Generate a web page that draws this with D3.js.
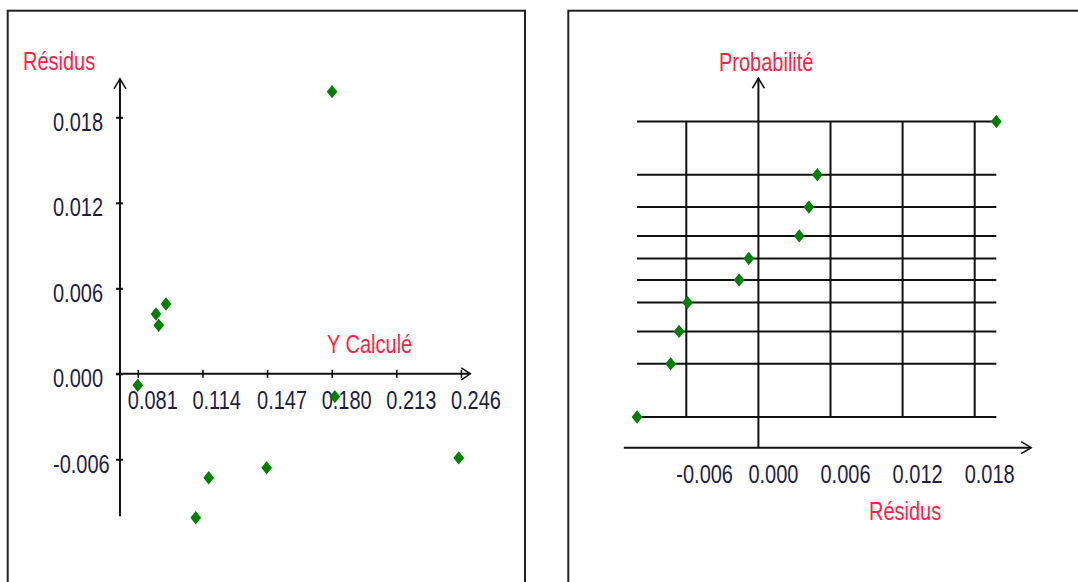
<!DOCTYPE html>
<html>
<head>
<meta charset="utf-8">
<script src="https://cdn.jsdelivr.net/npm/d3@7"></script>
<style>
  body { margin: 0; background: #fff; }
  svg { display: block; }
  text { font-family: "Liberation Sans", Arial, sans-serif; font-size: 20px; }
</style>
</head>
<body>
<svg id="chart" width="1078" height="582"></svg>
<script>
// values
const yCalcule = [0.0810, 0.0903, 0.0917, 0.0954, 0.1106, 0.1172, 0.1468, 0.1802, 0.1816, 0.2449];
const residus = [-0.0008, 0.0042, 0.0034, 0.0049, -0.0101, -0.0073, -0.0066, 0.0198, -0.0016, -0.0059];
// normal scores of the probability plot, lowest to highest
const probScores = [-1.64, -1.05, -0.69, -0.37, -0.12, 0.12, 0.37, 0.69, 1.05, 1.64];

const xTicksLeft = [0.081, 0.114, 0.147, 0.180, 0.213, 0.246];
const yTicksLeft = [-0.006, 0.000, 0.006, 0.012, 0.018];
const xTicksRight = [-0.006, 0.000, 0.006, 0.012, 0.018];

const svg = d3.select('#chart');
const ink = '#111';
const labelColor = '#1d1d45';
const titleColor = '#ff1f45';
const pointColor = '#008000';
const fmt = (d) => d.toFixed(3);

// diamond a bit wider than d3.symbolDiamond
const wideDiamond = {
  draw(ctx, size) {
    const w = Math.sqrt(size) / 2;
    const h = w * 1.25;
    ctx.moveTo(0, -h);
    ctx.lineTo(w, 0);
    ctx.lineTo(0, h);
    ctx.lineTo(-w, 0);
    ctx.closePath();
  }
};
const marker = d3.symbol().type(wideDiamond).size(115);

function label(g, txt, x, y, color) {
  g.append('text')
    .attr('transform', `translate(${x},${y}) scale(1,1.3)`)
    .attr('fill', color)
    .text(txt);
}

function line(g, x1, y1, x2, y2) {
  g.append('line')
    .attr('x1', x1).attr('y1', y1).attr('x2', x2).attr('y2', y2)
    .attr('stroke', ink).attr('stroke-width', 2);
}

function arrow(g, pts) {
  g.append('path')
    .attr('d', d3.line()(pts))
    .attr('fill', 'none')
    .attr('stroke', ink)
    .attr('stroke-width', 1.5);
}

// panel frames
svg.append('rect').attr('x', 7.7).attr('y', 10.7).attr('width', 517.3).attr('height', 600)
  .attr('fill', 'none').attr('stroke', '#222').attr('stroke-width', 2);
svg.append('rect').attr('x', 568.3).attr('y', 10.7).attr('width', 600).attr('height', 600)
  .attr('fill', 'none').attr('stroke', '#222').attr('stroke-width', 2);

// ---------- left: residus vs Y calcule ----------
const left = svg.append('g');
const xL = d3.scaleLinear().domain([0.081, 0.213]).range([137.8, 396.3]);
const yL = d3.scaleLinear().domain([-0.006, 0.018]).range([459.3, 117.3]);

const axX = yL(0);
const axY = xL(0.0719);
line(left, axY, yL(-0.0100), axY, yL(0.0207));
line(left, xL(0.0699), axX, xL(0.2508), axX);
arrow(left, [[axY - 6, yL(0.0207) + 10], [axY, yL(0.0207)], [axY + 6, yL(0.0207) + 10]]);
arrow(left, [[xL(0.2508) - 9, axX - 6], [xL(0.2508), axX], [xL(0.2508) - 9, axX + 6]]);

const gy = left.append('g')
  .attr('transform', `translate(${axY},0)`)
  .call(d3.axisLeft(yL).tickValues(yTicksLeft).tickSize(4).tickFormat(''));
gy.select('.domain').remove();
gy.selectAll('.tick line').attr('x1', -4).attr('x2', 3).attr('stroke', ink).attr('stroke-width', 2);

const gx = left.append('g')
  .attr('transform', `translate(0,${axX})`)
  .call(d3.axisBottom(xL).tickValues(xTicksLeft).tickSize(4).tickFormat(''));
gx.select('.domain').remove();
gx.selectAll('.tick line').attr('y1', -4).attr('y2', 4).attr('stroke', ink).attr('stroke-width', 1.6);

yTicksLeft.forEach((d) => label(left, fmt(d), 53, yL(d) + 13.4, labelColor));
xTicksLeft.forEach((d) => label(left, fmt(d), xL(d) - 10, axX + 35, labelColor));

label(left, 'Résidus', 23, 70, titleColor);
label(left, 'Y Calculé', 327, 353, titleColor);

left.selectAll('.pt')
  .data(d3.zip(yCalcule, residus))
  .join('path')
  .attr('class', 'pt')
  .attr('d', marker)
  .attr('transform', (d) => `translate(${xL(d[0])},${yL(d[1])})`)
  .attr('fill', pointColor);

// ---------- right: normal probability plot ----------
const right = svg.append('g');
const sorted = d3.sort(residus);
const xR = d3.scaleLinear().domain([-0.006, 0.018]).range([686.3, 974.7]);
const yR = d3.scaleLinear().domain([-1.64, 1.64]).range([417, 121.5]);

const [rMin, rMax] = d3.extent(sorted);
const [zMin, zMax] = d3.extent(probScores);

probScores.forEach((z) => line(right, xR(rMin), yR(z), xR(rMax), yR(z)));
xTicksRight.filter((d) => d !== 0).forEach((d) => line(right, xR(d), yR(zMin), xR(d), yR(zMax)));

const bx = yR(-1.98);
line(right, xR(0), bx, xR(0), yR(2.12));
line(right, xR(-0.0112), bx, xR(0.0227), bx);
arrow(right, [[xR(0) - 6, yR(2.12) + 10], [xR(0), yR(2.12)], [xR(0) + 6, yR(2.12) + 10]]);
arrow(right, [[xR(0.0227) - 10, bx - 6], [xR(0.0227), bx], [xR(0.0227) - 10, bx + 6]]);

xTicksRight.forEach((d) => label(right, fmt(d), xR(d) - 10, bx + 35.6, labelColor));

label(right, 'Probabilité', 719, 70.7, titleColor);
label(right, 'Résidus', 869, 520, titleColor);

right.selectAll('.pt')
  .data(d3.zip(sorted, probScores))
  .join('path')
  .attr('class', 'pt')
  .attr('d', marker)
  .attr('transform', (d) => `translate(${xR(d[0])},${yR(d[1])})`)
  .attr('fill', pointColor);
</script>
</body>
</html>
